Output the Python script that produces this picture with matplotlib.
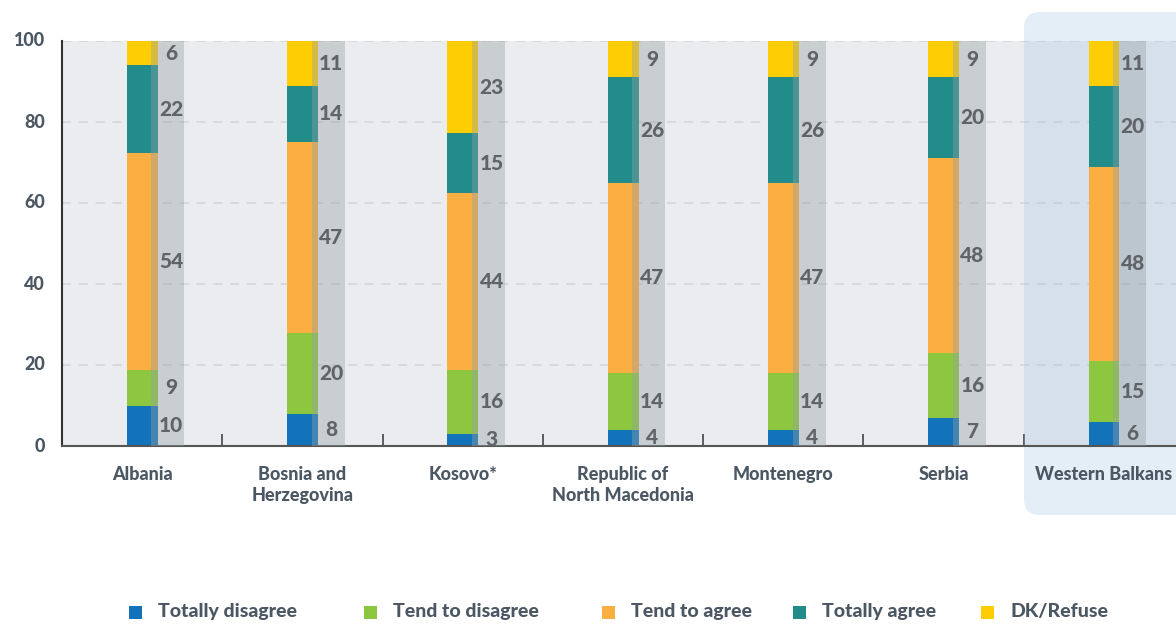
import matplotlib
matplotlib.use("Agg")
import matplotlib.pyplot as plt
import numpy as np
from matplotlib.patches import FancyBboxPatch, Rectangle
from matplotlib.ticker import FixedLocator, NullFormatter

categories = ["Albania", "Bosnia and\nHerzegovina", "Kosovo*", "Republic of\nNorth Macedonia",
              "Montenegro", "Serbia", "Western Balkans"]
series_names = ["Totally disagree", "Tend to disagree", "Tend to agree", "Totally agree", "DK/Refuse"]
totally_disagree = [10, 8, 3, 4, 4, 7, 6]
tend_to_disagree = [9, 20, 16, 14, 14, 16, 15]
tend_to_agree = [54, 47, 44, 47, 47, 48, 48]
totally_agree = [22, 14, 15, 26, 26, 20, 20]
dk_refuse = [6, 11, 23, 9, 9, 9, 11]
yticks = [0, 20, 40, 60, 80, 100]

colors = ["#1272ba", "#8dc63f", "#fbae42", "#218c89", "#ffcd03"]
FONT = ["Lato", "DejaVu Sans"]
plt.rcParams["font.family"] = FONT
FP = dict(family=FONT, fontweight=900)

TXT = "#4b5763"
VAL = "#606468"

W, H = 1176, 626
fig = plt.figure(figsize=(W / 100, H / 100), dpi=100)
fig.patch.set_facecolor("white")
ax = fig.add_axes([62 / W, 1 - 446 / H, 1 - 62 / W, (446 - 41) / H])
ax.set_facecolor("#ebecef")

series = [totally_disagree, tend_to_disagree, tend_to_agree, totally_agree, dk_refuse]
data = np.array(series, dtype=float)
totals = data.sum(axis=0)
norm = data / totals * 100.0

x = np.arange(len(categories))
bar_left, bar_w = -0.096, 0.193
bottom = np.zeros(len(categories))
for vals, col in zip(norm, colors):
    ax.bar(x + bar_left, vals, width=bar_w, bottom=bottom, color=col, align="edge",
           zorder=2, linewidth=0)
    bottom += vals

strip_left, strip_right = 0.058, 0.263
ax.bar(x + strip_left, [100] * len(categories), width=strip_right - strip_left, bottom=0,
       align="edge", color=(0.59, 0.63, 0.65), alpha=0.4, zorder=3, linewidth=0)

bottom = np.zeros(len(categories))
for vals_raw, vals in zip(data, norm):
    for i in range(len(categories)):
        ax.text(x[i] + 0.18, bottom[i] + vals[i] / 2, f"{int(vals_raw[i])}", fontsize=15,
                ha="center", va="center", color=VAL, zorder=4, **FP)
    bottom += vals

ax.set_ylim(0, 100)
ax.set_xlim(-0.5, -0.5 + (W - 62) / 160.3)
ax.set_yticks(yticks)
ax.set_yticklabels([])
for v in yticks:
    ax.text(-0.5 - 17 / 160.3, v, str(v), fontsize=13, ha="right", va="center", color=TXT, **FP)
ax.tick_params(axis="y", length=0)
ax.set_xticks(x)
ax.set_xticklabels([])
for i, c in enumerate(categories):
    ax.text(x[i], -5.0, c, fontsize=13, ha="center", va="top", color=TXT, linespacing=1.3, **FP)
ax.tick_params(axis="x", which="major", length=0)
ax.xaxis.set_minor_locator(FixedLocator(np.arange(len(categories) - 1) + 0.5))
ax.xaxis.set_minor_formatter(NullFormatter())
ax.tick_params(axis="x", which="minor", direction="in", length=9, width=1.2, color="#444444")

ax.set_axisbelow(True)
ax.yaxis.grid(True, linestyle=(0, (6, 5)), color="#d2d4d7", linewidth=1.1)
ax.xaxis.grid(False)
for s in ["top", "right"]:
    ax.spines[s].set_visible(False)
ax.spines["left"].set_color("#333333")
ax.spines["left"].set_linewidth(1.5)
ax.spines["bottom"].set_color("#555555")
ax.spines["bottom"].set_linewidth(1.5)

hl = FancyBboxPatch((1024 / 100, (H - 515) / 100), (1250 - 1024) / 100, (515 - 12) / 100,
                    boxstyle="round,pad=0,rounding_size=0.16",
                    transform=fig.dpi_scale_trans, facecolor=(151 / 255, 191 / 255, 223 / 255),
                    alpha=0.25, edgecolor="none", clip_on=False, zorder=0.8)
ax.add_patch(hl)

sq_x = [129, 364, 602, 793, 981]
for name, col, sx in zip(series_names, colors, sq_x):
    fig.patches.append(Rectangle((sx / W, 1 - 619 / H), 13 / W, 13 / H, transform=fig.transFigure,
                                 facecolor=col, edgecolor="none"))
    fig.text((sx + 29) / W, 1 - 612 / H, name, fontsize=14, ha="left", va="center", color=TXT, **FP)

fig.savefig("out.png", dpi=100)
